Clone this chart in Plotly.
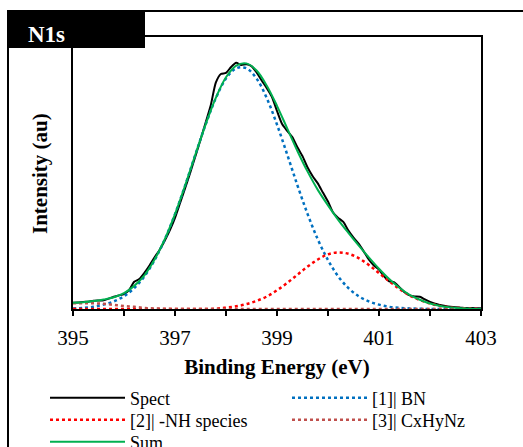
import plotly.graph_objects as go

# ---------------- data ----------------
spect_energy = [395.0, 395.1, 395.2, 395.3, 395.4, 395.5, 395.6, 395.7, 395.8, 395.9,
                396.0, 396.1, 396.2, 396.3, 396.4, 396.5, 396.6, 396.7, 396.8, 396.9,
                397.0, 397.1, 397.2, 397.3, 397.4, 397.5, 397.6, 397.7, 397.8, 397.9,
                398.0, 398.1, 398.2, 398.3, 398.4, 398.5, 398.6, 398.7, 398.8, 398.9,
                399.0, 399.1, 399.2, 399.3, 399.4, 399.5, 399.6, 399.7, 399.8, 399.9,
                400.0, 400.1, 400.2, 400.3, 400.4, 400.5, 400.6, 400.7, 400.8, 400.9,
                401.0, 401.1, 401.2, 401.3, 401.4, 401.5, 401.6, 401.7, 401.8, 401.9,
                402.0, 402.1, 402.2, 402.3, 402.4, 402.5, 402.6, 402.7, 402.8, 402.9,
                403.0]
spect = [0.023, 0.024, 0.026, 0.027, 0.030, 0.031, 0.032, 0.038, 0.045, 0.050,
         0.055, 0.070, 0.100, 0.110, 0.133, 0.160, 0.190, 0.218, 0.252, 0.290,
         0.335, 0.390, 0.445, 0.502, 0.562, 0.622, 0.685, 0.748, 0.832, 0.864,
         0.868, 0.890, 0.905, 0.897, 0.900, 0.893, 0.870, 0.840, 0.812, 0.780,
         0.728, 0.680, 0.655, 0.632, 0.595, 0.562, 0.520, 0.488, 0.462, 0.428,
         0.395, 0.355, 0.335, 0.320, 0.288, 0.262, 0.240, 0.212, 0.182, 0.160,
         0.145, 0.120, 0.102, 0.098, 0.080, 0.062, 0.050, 0.046, 0.045, 0.035,
         0.026, 0.019, 0.015, 0.011, 0.008, 0.006, 0.005, 0.004, 0.004, 0.003,
         0.003]

fit_energy = [395.0, 395.2, 395.4, 395.6, 395.8, 396.0, 396.2, 396.4, 396.6, 396.8,
              397.0, 397.2, 397.4, 397.6, 397.8, 398.0, 398.2, 398.4, 398.6, 398.8,
              399.0, 399.2, 399.4, 399.6, 399.8, 400.0, 400.2, 400.4, 400.6, 400.8,
              401.0, 401.2, 401.4, 401.6, 401.8, 402.0, 402.2, 402.4, 402.6, 402.8,
              403.0]
bn = [0.002, 0.004, 0.008, 0.016, 0.028, 0.047, 0.077, 0.120, 0.180, 0.256,
      0.349, 0.455, 0.568, 0.678, 0.775, 0.847, 0.885, 0.885, 0.847, 0.775,
      0.678, 0.568, 0.455, 0.349, 0.256, 0.180, 0.120, 0.077, 0.047, 0.028,
      0.016, 0.008, 0.004, 0.002, 0.001, 0.000, 0.000, 0.000, 0.000, 0.000,
      0.000]
nh = [0.000, 0.000, 0.000, 0.000, 0.000, 0.000, 0.000, 0.000, 0.000, 0.000,
      0.000, 0.000, 0.000, 0.000, 0.001, 0.005, 0.010, 0.018, 0.030, 0.046,
      0.069, 0.096, 0.126, 0.156, 0.182, 0.201, 0.208, 0.203, 0.187, 0.162,
      0.132, 0.102, 0.074, 0.050, 0.033, 0.020, 0.011, 0.006, 0.003, 0.001,
      0.000]
cxhynz = [0.021, 0.021, 0.021, 0.019, 0.015, 0.011, 0.008, 0.004, 0.002, 0.001,
          0.000, 0.000, 0.000, 0.000, 0.000, 0.000, 0.000, 0.000, 0.000, 0.000,
          0.000, 0.000, 0.000, 0.000, 0.000, 0.000, 0.000, 0.000, 0.000, 0.000,
          0.000, 0.000, 0.000, 0.000, 0.000, 0.000, 0.000, 0.000, 0.000, 0.000,
          0.000]
fit_sum = [0.023, 0.025, 0.029, 0.035, 0.043, 0.058, 0.085, 0.124, 0.182, 0.257,
           0.349, 0.455, 0.568, 0.678, 0.776, 0.852, 0.895, 0.903, 0.877, 0.821,
           0.747, 0.664, 0.581, 0.505, 0.438, 0.381, 0.328, 0.280, 0.234, 0.190,
           0.148, 0.110, 0.078, 0.052, 0.034, 0.020, 0.011, 0.006, 0.003, 0.001,
           0.000]

x_tick_vals = [395, 397, 399, 401, 403]
x_tick_text = ["395", "397", "399", "401", "403"]
series_names = ["Spect", "[1]| BN", "[2]| -NH species", "[3]| CxHyNz", "Sum"]
series_colors = ["#000000", "#0070C0", "#FF0000", "#C0504D", "#00B050"]

# ---------------- layout geometry (pixels) ----------------
W, H = 523, 447
L, R, T, B = 73, 481, 37, 309
FONT = "Liberation Serif"


def px(x):
    return (x - L) / (R - L)


def py(y):
    return (B - y) / (B - T)


def cx(x):
    return x / W


def cy(y):
    return 1 - y / H


DOT = "3px,3px"
fig = go.Figure()
fig.add_trace(go.Scatter(x=spect_energy, y=spect, mode="lines", name=series_names[0], legend="legend",
                         line=dict(color=series_colors[0], width=2, shape="spline", smoothing=0.6)))
fig.add_trace(go.Scatter(x=fit_energy, y=bn, mode="lines", name=series_names[1], legend="legend2",
                         line=dict(color=series_colors[1], width=2.5, dash=DOT, shape="spline")))
fig.add_trace(go.Scatter(x=fit_energy, y=nh, mode="lines", name=series_names[2], legend="legend3",
                         line=dict(color=series_colors[2], width=2.5, dash=DOT, shape="spline")))
fig.add_trace(go.Scatter(x=fit_energy, y=cxhynz, mode="lines", name=series_names[3], legend="legend4",
                         line=dict(color=series_colors[3], width=2.5, dash=DOT, shape="spline")))
fig.add_trace(go.Scatter(x=fit_energy, y=fit_sum, mode="lines", name=series_names[4], legend="legend5",
                         line=dict(color=series_colors[4], width=2, shape="spline")))

col_x = [45, 287]
row_y = [398, 420, 442]
slots = [(0, 0), (1, 0), (0, 1), (1, 1), (0, 2)]
legend_layout = {}
for i, (c, r) in enumerate(slots):
    key = "legend" if i == 0 else "legend%d" % (i + 1)
    legend_layout[key] = dict(xref="container", yref="container",
                              x=cx(col_x[c]), y=cy(row_y[r]), xanchor="left", yanchor="middle",
                              itemwidth=75, bgcolor="rgba(0,0,0,0)", borderwidth=0,
                              font=dict(family=FONT, size=18, color="black"))

fig.update_layout(
    width=W, height=H,
    margin=dict(l=L, r=W - R, t=T, b=H - B, pad=0, autoexpand=False),
    paper_bgcolor="white", plot_bgcolor="white",
    font=dict(family=FONT, size=18, color="black"),
    showlegend=True,
    xaxis=dict(range=[395, 403], tickvals=x_tick_vals, ticktext=x_tick_text,
               ticks="outside", ticklen=5, tickwidth=1.5, tickcolor="black",
               ticklabelstandoff=4,
               minor=dict(dtick=1, ticks="outside", ticklen=5, tickwidth=1.5, tickcolor="black"),
               showline=True, linecolor="black", linewidth=2, mirror=True,
               showgrid=False, zeroline=False,
               tickfont=dict(family=FONT, size=21),
               title=dict(text="<b>Binding Energy (eV)</b>", font=dict(family=FONT, size=21),
                          standoff=10)),
    yaxis=dict(range=[0, 1], showticklabels=False, ticks="",
               showline=True, linecolor="black", linewidth=2, mirror=True,
               showgrid=False, zeroline=False),
    **legend_layout,
)

# y-axis title as rotated text
fig.add_annotation(text="<b>Intensity (au)</b>", xref="paper", yref="paper",
                   x=px(40), y=py(174), textangle=-90, showarrow=False,
                   font=dict(family=FONT, size=21, color="black"),
                   xanchor="center", yanchor="middle")

# outer panel frame
fig.add_shape(type="line", xref="paper", yref="paper", x0=px(8), x1=px(523), y0=py(11), y1=py(11),
              line=dict(color="black", width=2), layer="above")
fig.add_shape(type="line", xref="paper", yref="paper", x0=px(8), x1=px(8), y0=py(10), y1=py(460),
              line=dict(color="black", width=2), layer="above")
# black label tab
fig.add_shape(type="rect", xref="paper", yref="paper", x0=px(7), x1=px(145), y0=py(10), y1=py(48),
              fillcolor="black", line=dict(color="black", width=0), layer="above")
fig.add_annotation(text="<b>N1s</b>", xref="paper", yref="paper", x=px(46), y=py(34),
                   showarrow=False, font=dict(family=FONT, size=23, color="white"),
                   xanchor="center", yanchor="middle")

fig.write_html("out.html", config={"displayModeBar": False},
               post_script="document.body.style.margin='0';")
